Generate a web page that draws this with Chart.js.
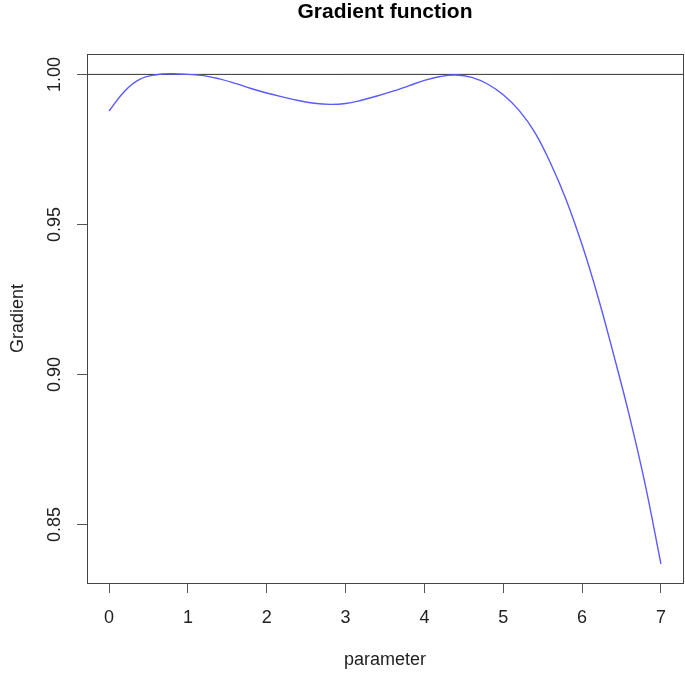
<!DOCTYPE html>
<html>
<head>
<meta charset="utf-8">
<script src="https://cdn.jsdelivr.net/npm/chart.js@4"></script>
<style>
  html, body { margin: 0; padding: 0; background: #ffffff; }
  #wrap { width: 685px; height: 673px; }
</style>
</head>
<body>
<div id="wrap"><canvas id="chart" width="685" height="673"></canvas></div>
<script>
const params = [0, 0.2, 0.4, 0.6, 0.8, 1.0, 1.2, 1.4, 1.6, 1.8, 2.0, 2.2, 2.4, 2.6, 2.8, 3.0, 3.2, 3.4, 3.6, 3.8, 4.0, 4.2, 4.4, 4.6, 4.8, 5.0, 5.2, 5.4, 5.6, 5.8, 6.0, 6.2, 6.4, 6.6, 6.8, 7.0];
const gradient = [0.9878, 0.9945, 0.9985, 0.9999, 1.0002, 1.0000, 0.9996, 0.9985, 0.9970, 0.9953, 0.9938, 0.9925, 0.9913, 0.9904, 0.9900, 0.9903, 0.9914, 0.9928, 0.9944, 0.9962, 0.9980, 0.9993, 0.9998, 0.9990, 0.9968, 0.9932, 0.9880, 0.9807, 0.9704, 0.9581, 0.9432, 0.9260, 0.9066, 0.8862, 0.8634, 0.8369];
const xTicks = [0, 1, 2, 3, 4, 5, 6, 7];
const yTicks = [0.85, 0.90, 0.95, 1.00];
const refLevel = 1;

const xMin = -0.28, xMax = 7.28;
const yMin = 0.8305, yMax = 1.0068;
const FONT = "'Liberation Sans', Arial, sans-serif";

const boxPlugin = {
  id: "box",
  afterDraw(chart) {
    const { ctx, chartArea } = chart;
    ctx.save();
    ctx.strokeStyle = "#444";
    ctx.lineWidth = 1;
    ctx.strokeRect(Math.round(chartArea.left) + 0.5, Math.round(chartArea.top) + 0.5,
      Math.round(chartArea.right - chartArea.left), Math.round(chartArea.bottom - chartArea.top));
    ctx.restore();
  },
};

new Chart(document.getElementById("chart").getContext("2d"), {
  type: "line",
  data: {
    datasets: [
      {
        data: params.map((p, i) => ({ x: p, y: gradient[i] })),
        borderColor: "#5a5aff",
        borderWidth: 1.4,
        pointRadius: 0,
        tension: 0.4,
        fill: false,
      },
      {
        data: [{ x: xMin, y: refLevel }, { x: xMax, y: refLevel }],
        borderColor: "#333",
        borderWidth: 1,
        pointRadius: 0,
        fill: false,
      },
    ],
  },
  options: {
    responsive: false,
    animation: false,
    layout: { padding: { left: 0, right: 2, top: 0, bottom: 0 } },
    plugins: {
      legend: { display: false },
      tooltip: { enabled: false },
      title: {
        display: true,
        fullSize: false,
        text: "Gradient function",
        color: "#000",
        font: { family: FONT, size: 21, weight: "bold", lineHeight: 1.2 },
        padding: { top: 0, bottom: 28.8 },
      },
    },
    scales: {
      x: {
        type: "linear",
        min: xMin,
        max: xMax,
        afterBuildTicks(scale) {
          scale.ticks = xTicks.map((v) => ({ value: v }));
        },
        afterFit(scale) {
          scale.height = 90;
        },
        border: { display: false },
        grid: { drawOnChartArea: false, drawTicks: true, tickLength: 10, color: "#555" },
        ticks: {
          color: "#222",
          font: { family: FONT, size: 18 },
          padding: 14,
          maxRotation: 0,
          autoSkip: false,
        },
        title: {
          display: true,
          text: "parameter",
          color: "#222",
          font: { family: FONT, size: 18, lineHeight: 1.2 },
          padding: { top: 0, bottom: 2 },
        },
      },
      y: {
        type: "linear",
        min: yMin,
        max: yMax,
        afterBuildTicks(scale) {
          scale.ticks = yTicks.map((v) => ({ value: v }));
        },
        afterFit(scale) {
          scale.width = 87;
        },
        border: { display: false },
        grid: { drawOnChartArea: false, drawTicks: true, tickLength: 10, color: "#555" },
        ticks: {
          color: "#222",
          font: { family: FONT, size: 18 },
          padding: 4,
          minRotation: 90,
          maxRotation: 90,
          crossAlign: "center",
          autoSkip: false,
          callback: (v) => Number(v).toFixed(2),
        },
        title: {
          display: true,
          text: "Gradient",
          color: "#222",
          font: { family: FONT, size: 18, lineHeight: 1.2 },
          padding: { top: 7, bottom: 0 },
        },
      },
    },
  },
  plugins: [boxPlugin],
});
</script>
</body>
</html>
